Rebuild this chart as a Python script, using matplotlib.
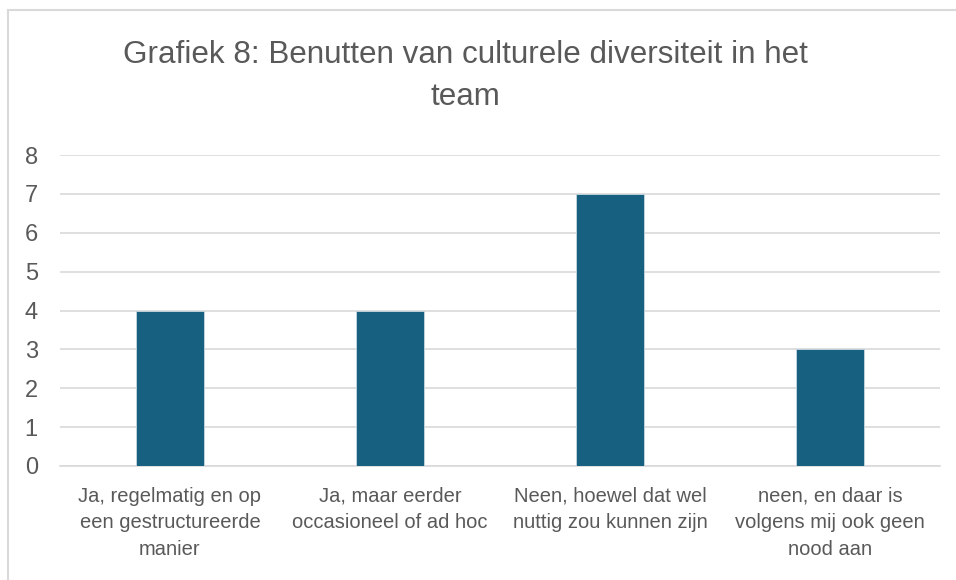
import matplotlib.pyplot as plt
from matplotlib.patches import Rectangle

categories = [
    "Ja, regelmatig en op\neen gestructureerde\nmanier",
    "Ja, maar eerder\noccasioneel of ad hoc",
    "Neen, hoewel dat wel\nnuttig zou kunnen zijn",
    "neen, en daar is\nvolgens mij ook geen\nnood aan",
]
values = [4, 4, 7, 3]
yticks = [0, 1, 2, 3, 4, 5, 6, 7, 8]

plt.rcParams['font.family'] = ['Liberation Sans', 'DejaVu Sans']

fig = plt.figure(figsize=(9.56, 5.8), dpi=100)

# chart frame (cut off at right and bottom)
fig.patches.append(Rectangle((8 / 956, -0.1), 2, 1.1 - 10 / 580,
                             transform=fig.transFigure, fill=False,
                             edgecolor='#d9d9d9', linewidth=1.5))

ax = fig.add_axes([60 / 956, 1 - 466 / 580, 880 / 956, 311 / 580])
x = range(len(categories))
ax.bar(x, values, width=0.31, color='#17607f', edgecolor='#c8d8e0', linewidth=0.6, zorder=3)

ax.set_xlim(-0.5, len(categories) - 0.5)
ax.set_ylim(0, 8)
ax.set_yticks(yticks)
ax.set_xticks(list(x))
ax.set_xticklabels(categories, fontsize=14.5, color='#595959', linespacing=1.5)
ax.tick_params(axis='y', labelsize=17, colors='#595959', length=0, pad=16)
ax.tick_params(axis='x', length=0, pad=15)
ax.grid(axis='y', color='#d9d9d9', linewidth=1.2, zorder=0)
for side in ['top', 'right', 'left']:
    ax.spines[side].set_visible(False)
ax.spines['bottom'].set_color('#d9d9d9')
ax.spines['bottom'].set_linewidth(1.2)

fig.text(0.487, 1 - 76 / 580, "Grafiek 8: Benutten van culturele diversiteit in het\nteam",
         ha='center', va='center', fontsize=22.6, color='#595959', linespacing=1.55)

fig.savefig('out.png', dpi=100)
